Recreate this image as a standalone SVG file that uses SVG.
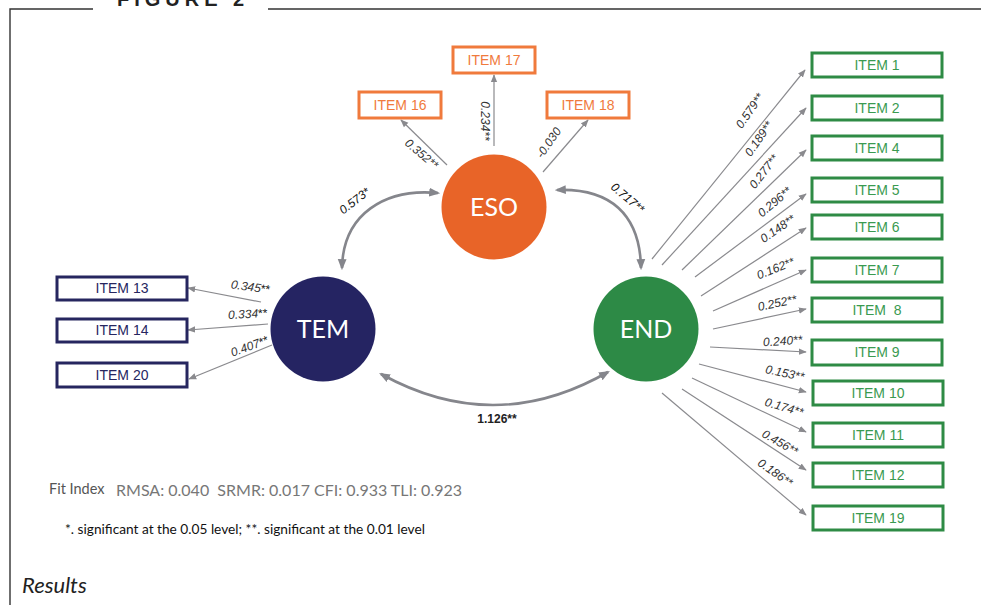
<svg xmlns="http://www.w3.org/2000/svg" width="981" height="605" viewBox="0 0 981 605">
<style>
.frame{stroke:#333;stroke-width:1.4;fill:none}
.ln{stroke:#8a8a8e;stroke-width:1.2;fill:none}
.cv{stroke:#85868c;stroke-width:2.6;fill:none}
.lbl{font-family:"Liberation Sans",Arial,sans-serif;font-style:italic;font-size:12px;fill:#333;text-anchor:middle}
.cor{font-family:"Liberation Sans",Arial,sans-serif;font-style:italic;font-size:12px;fill:#111;text-anchor:middle}
.up{font-family:"Liberation Sans",Arial,sans-serif;font-size:12px;font-weight:bold;fill:#222;text-anchor:middle}
.it{font-family:"Liberation Sans",Arial,sans-serif;font-size:14px;text-anchor:middle}
.bo{fill:#fff;stroke:#F07A3C;stroke-width:3}
.to{fill:#F07A3C}
.bn{fill:#fff;stroke:#26265f;stroke-width:3}
.tn{fill:#26265f}
.bg{fill:#fff;stroke:#2E8B45;stroke-width:3}
.tg{fill:#3A9A50}
.ct{font-family:Lato,"Liberation Sans",sans-serif;font-size:25px;fill:#fff;text-anchor:middle}
</style>
<defs>
<marker id="ah" viewBox="0 0 10 10" refX="9" refY="5" markerWidth="8" markerHeight="8" markerUnits="userSpaceOnUse" orient="auto-start-reverse"><path d="M0,1 L10,5 L0,9 z" fill="#8a8a8e"/></marker>
<marker id="ah2" viewBox="0 0 10 10" refX="8" refY="5" markerWidth="11" markerHeight="11" markerUnits="userSpaceOnUse" orient="auto-start-reverse"><path d="M0,1 L10,5 L0,9 z" fill="#85868c"/></marker>
</defs>
<rect width="981" height="605" fill="#fff"/>
<g id="frame">
<path class="frame" d="M10,605 V9 H93 M268,9 H981"/>
<text x="117" y="6" font-family="Liberation Sans,Arial,sans-serif" font-weight="bold" font-size="20" letter-spacing="5" fill="#222">FIGURE 2</text>
</g>
<g id="connectors">
<line class="ln" x1="447" y1="165" x2="401" y2="120" marker-end="url(#ah)"/>
<line class="ln" x1="494" y1="146" x2="494" y2="75" marker-end="url(#ah)"/>
<line class="ln" x1="543" y1="172" x2="588" y2="120" marker-end="url(#ah)"/>
<line class="ln" x1="261" y1="302" x2="188" y2="288" marker-end="url(#ah)"/>
<line class="ln" x1="268" y1="324" x2="188" y2="330" marker-end="url(#ah)"/>
<line class="ln" x1="272" y1="345" x2="189" y2="379" marker-end="url(#ah)"/>
<line class="ln" x1="652" y1="259" x2="805" y2="70" marker-end="url(#ah)"/>
<line class="ln" x1="662" y1="265" x2="806" y2="108" marker-end="url(#ah)"/>
<line class="ln" x1="682" y1="270" x2="806" y2="150" marker-end="url(#ah)"/>
<line class="ln" x1="695" y1="277" x2="806" y2="194" marker-end="url(#ah)"/>
<line class="ln" x1="701" y1="296" x2="806" y2="228" marker-end="url(#ah)"/>
<line class="ln" x1="713" y1="311" x2="806" y2="270" marker-end="url(#ah)"/>
<line class="ln" x1="713" y1="329" x2="806" y2="309" marker-end="url(#ah)"/>
<line class="ln" x1="710" y1="347" x2="806" y2="352" marker-end="url(#ah)"/>
<line class="ln" x1="699" y1="364" x2="806" y2="392" marker-end="url(#ah)"/>
<line class="ln" x1="692" y1="378" x2="806" y2="432" marker-end="url(#ah)"/>
<line class="ln" x1="682" y1="389" x2="806" y2="470" marker-end="url(#ah)"/>
<line class="ln" x1="662" y1="393" x2="806" y2="515" marker-end="url(#ah)"/>
<path class="cv" d="M438,193 C385,188 343,214 342,268" marker-start="url(#ah2)" marker-end="url(#ah2)"/>
<path class="cv" d="M557,190 C610,188 640,214 641,268" marker-start="url(#ah2)" marker-end="url(#ah2)"/>
<path class="cv" d="M381,374 Q495,437 608,372" marker-start="url(#ah2)" marker-end="url(#ah2)"/>
<text class="lbl" transform="translate(419,157) rotate(40)">0.352**</text>
<text class="lbl" transform="translate(481,121) rotate(90)">0.234**</text>
<text class="lbl" transform="translate(552,145) rotate(-55)">-0.030</text>
<text class="lbl" transform="translate(250,291) rotate(8)">0.345<tspan style="font-style:normal" fill="#111">**</tspan></text>
<text class="lbl" transform="translate(248,318) rotate(-3)">0.334<tspan style="font-style:normal" fill="#111">**</tspan></text>
<text class="lbl" transform="translate(251,350) rotate(-20)">0.407<tspan style="font-style:normal" fill="#111">**</tspan></text>
<text class="lbl" transform="translate(753,113) rotate(-55)">0.579**</text>
<text class="lbl" transform="translate(762,141) rotate(-55)">0.189**</text>
<text class="lbl" transform="translate(767,174) rotate(-52)">0.277**</text>
<text class="lbl" transform="translate(777,205) rotate(-40)">0.296**</text>
<text class="lbl" transform="translate(780,232) rotate(-35)">0.148**</text>
<text class="lbl" transform="translate(777,272) rotate(-22)">0.162**</text>
<text class="lbl" transform="translate(778,307) rotate(-12)">0.252**</text>
<text class="lbl" transform="translate(783,345) rotate(-4)">0.240**</text>
<text class="lbl" transform="translate(784,377) rotate(12)">0.153**</text>
<text class="lbl" transform="translate(783,411) rotate(16)">0.174**</text>
<text class="lbl" transform="translate(778,446) rotate(30)">0.456**</text>
<text class="lbl" transform="translate(773,476) rotate(35)">0.186**</text>
<text class="cor" transform="translate(357,204) rotate(-38)">0.573*</text>
<text class="cor" transform="translate(625,201) rotate(40)">0.717**</text>
<text class="up" x="497" y="423">1.126**</text>
</g>
<g id="ESO"><circle cx="494" cy="207" r="52.5" fill="#E86428"/><text class="ct" x="494" y="216">ESO</text></g>
<g id="TEM"><circle cx="323" cy="329" r="52.5" fill="#252462"/><text class="ct" x="323" y="338">TEM</text></g>
<g id="END"><circle cx="646" cy="329" r="52.5" fill="#2D8A46"/><text class="ct" x="646" y="338">END</text></g>
<g id="item16"><rect class="bo" x="359" y="92" width="82" height="26"/><text class="it to" x="400" y="110">ITEM 16</text></g>
<g id="item17"><rect class="bo" x="453" y="47" width="82" height="26"/><text class="it to" x="494" y="65">ITEM 17</text></g>
<g id="item18"><rect class="bo" x="547" y="92" width="82" height="26"/><text class="it to" x="588" y="110">ITEM 18</text></g>
<g id="item13"><rect class="bn" x="57" y="277" width="130" height="23"/><text class="it tn" x="122" y="293">ITEM 13</text></g>
<g id="item14"><rect class="bn" x="57" y="319" width="130" height="23"/><text class="it tn" x="122" y="335">ITEM 14</text></g>
<g id="item20"><rect class="bn" x="57" y="363" width="130" height="24"/><text class="it tn" x="122" y="380">ITEM 20</text></g>
<g id="item1"><rect class="bg" x="812" y="53" width="130" height="24"/><text class="it tg" x="877" y="70">ITEM 1</text></g>
<g id="item2"><rect class="bg" x="812" y="96" width="130" height="24"/><text class="it tg" x="877" y="113">ITEM 2</text></g>
<g id="item4"><rect class="bg" x="812" y="136" width="130" height="24"/><text class="it tg" x="877" y="153">ITEM 4</text></g>
<g id="item5"><rect class="bg" x="812" y="178" width="130" height="24"/><text class="it tg" x="877" y="195">ITEM 5</text></g>
<g id="item6"><rect class="bg" x="812" y="215" width="130" height="24"/><text class="it tg" x="877" y="232">ITEM 6</text></g>
<g id="item7"><rect class="bg" x="812" y="258" width="130" height="24"/><text class="it tg" x="877" y="275">ITEM 7</text></g>
<g id="item8"><rect class="bg" x="812" y="298" width="130" height="24"/><text class="it tg" x="877" y="315" xml:space="preserve">ITEM  8</text></g>
<g id="item9"><rect class="bg" x="812" y="340" width="130" height="25"/><text class="it tg" x="877" y="357">ITEM 9</text></g>
<g id="item10"><rect class="bg" x="813" y="381" width="130" height="24"/><text class="it tg" x="878" y="398">ITEM 10</text></g>
<g id="item11"><rect class="bg" x="813" y="423" width="130" height="24"/><text class="it tg" x="878" y="440">ITEM 11</text></g>
<g id="item12"><rect class="bg" x="813" y="463" width="130" height="24"/><text class="it tg" x="878" y="480">ITEM 12</text></g>
<g id="item19"><rect class="bg" x="813" y="506" width="130" height="24"/><text class="it tg" x="878" y="523">ITEM 19</text></g>
<g id="notes" font-family="Lato,'Liberation Sans',sans-serif">
<text x="49" y="494" font-size="14.5" fill="#555">Fit Index</text>
<text x="116" y="496" font-size="16" fill="#777" xml:space="preserve">RMSA: 0.040  SRMR: 0.017 CFI: 0.933 TLI: 0.923</text>
<text x="65" y="534" font-size="13.7" fill="#111">*. significant at the 0.05 level; **. significant at the 0.01 level</text>
<text x="22" y="593" font-size="22" font-style="italic" fill="#222">Results</text>
</g>
</svg>
